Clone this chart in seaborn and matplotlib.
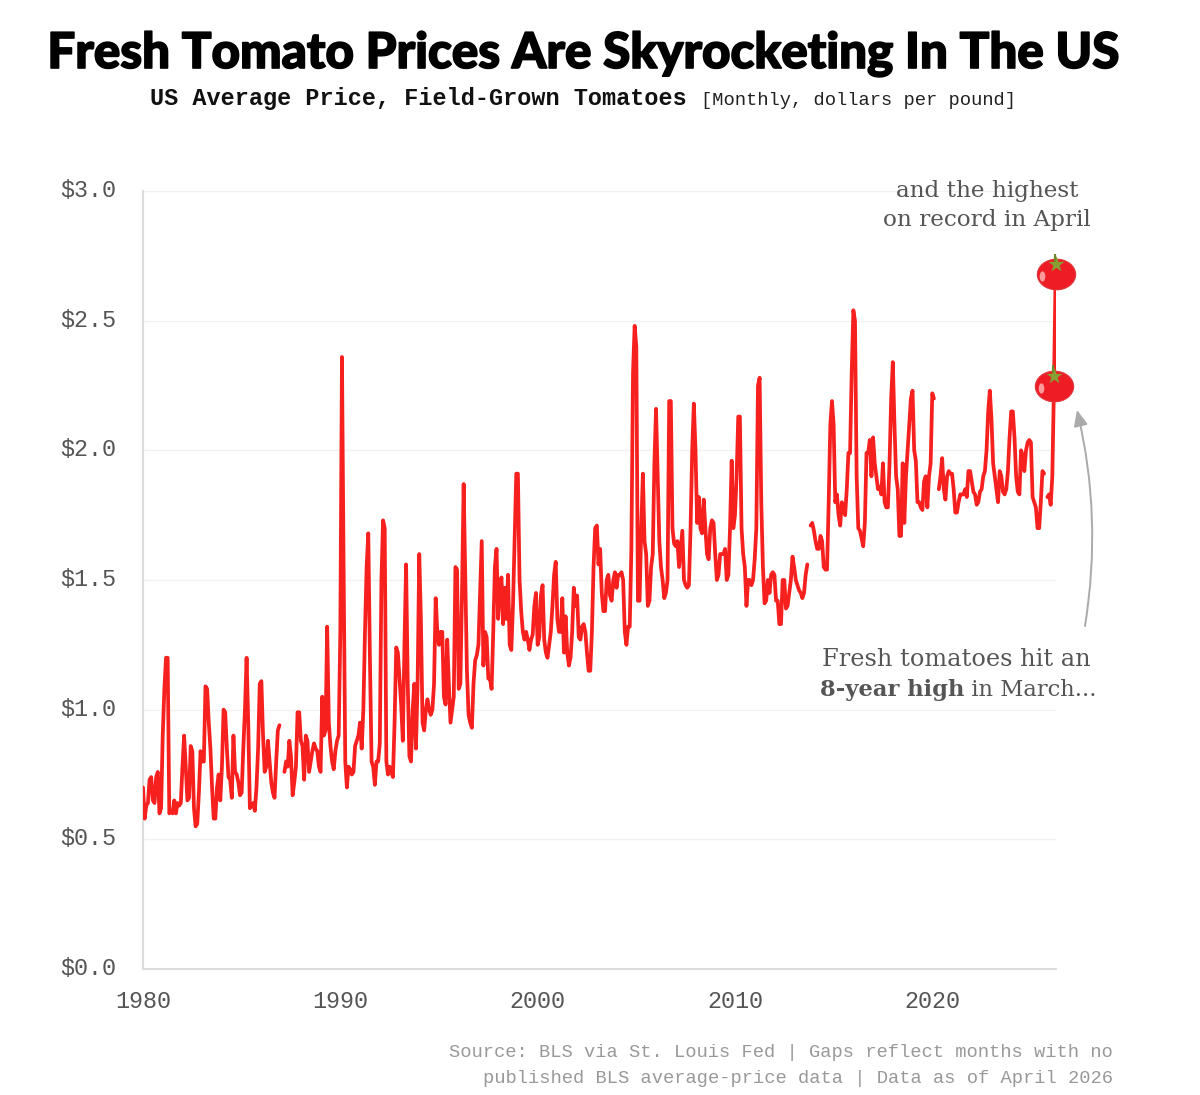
import numpy as np
import pandas as pd
import matplotlib
matplotlib.use('Agg')
import matplotlib.pyplot as plt
import matplotlib.patheffects as pe
from matplotlib.path import Path
from matplotlib.transforms import Affine2D, ScaledTranslation
import seaborn as sns

nan = np.nan

# Prezzi mensili, dollari per libbra
p1980 = [.70, .58, .63, .64, .73, .74, .65, .64, .74, .76, .60, .62]
p1981 = [.90, 1.08, 1.20, 1.20, .60, .61, .60, .65, .60, .64, .63, .64]
p1982 = [.78, .90, .78, .65, .66, .86, .84, .62, .55, .56, .68, .84]
p1983 = [.80, .80, 1.09, 1.08, .95, .85, .70, .58, .58, .70, .75, .65]
p1984 = [.78, 1.00, .99, .85, .74, .73, .66, .90, .76, .75, .72, .67]
p1985 = [.68, .85, 1.00, 1.20, .95, .62, .63, .64, .61, .70, .85, 1.10]
p1986 = [1.11, .90, .76, .78, .88, .80, .72, .68, .66, .80, .92, .94]
p1987 = [nan, nan, .76, .80, .78, .88, .82, .67, .72, .78, .99, .99]
p1988 = [.88, .86, .73, .90, .88, .76, .80, .84, .87, .85, .84, .78]
p1989 = [.76, 1.05, .90, .92, 1.32, .95, .86, .80, .77, .84, .88, .90]
p1990 = [1.30, 2.36, 1.55, .80, .70, .78, .77, .75, .76, .86, .88, .90]
p1991 = [.95, .85, 1.00, 1.30, 1.55, 1.68, 1.20, .80, .78, .71, .80, .80]
p1992 = [.87, 1.50, 1.73, 1.70, .80, .75, .78, .76, .74, .95, 1.24, 1.22]
p1993 = [1.12, 1.02, .88, 1.25, 1.56, 1.10, .82, .80, 1.00, 1.10, .85, 1.10]
p1994 = [1.60, 1.35, .95, .92, 1.00, 1.04, 1.00, .98, 1.00, 1.10, 1.43, 1.30]
p1995 = [1.25, 1.30, 1.30, 1.05, 1.02, 1.27, 1.10, .95, 1.00, 1.05, 1.55, 1.54]
p1996 = [1.08, 1.10, 1.45, 1.87, 1.50, 1.15, .98, .95, .93, 1.10, 1.19, 1.21]
p1997 = [1.25, 1.45, 1.65, 1.17, 1.30, 1.28, 1.12, 1.12, 1.08, 1.30, 1.55, 1.62]
p1998 = [1.35, 1.47, 1.51, 1.33, 1.47, 1.35, 1.52, 1.25, 1.23, 1.40, 1.65, 1.91]
p1999 = [1.91, 1.50, 1.38, 1.30, 1.27, 1.30, 1.27, 1.23, 1.27, 1.29, 1.40, 1.45]
p2000 = [1.25, 1.28, 1.44, 1.48, 1.27, 1.22, 1.20, 1.25, 1.30, 1.40, 1.52, 1.57]
p2001 = [1.35, 1.30, 1.30, 1.43, 1.22, 1.36, 1.22, 1.17, 1.20, 1.30, 1.47, 1.40]
p2002 = [1.44, 1.28, 1.27, 1.32, 1.33, 1.30, 1.22, 1.15, 1.15, 1.30, 1.55, 1.70]
p2003 = [1.71, 1.56, 1.62, 1.45, 1.38, 1.38, 1.50, 1.52, 1.44, 1.42, 1.50, 1.53]
p2004 = [1.47, 1.52, 1.52, 1.53, 1.50, 1.30, 1.25, 1.32, 1.32, 1.62, 2.30, 2.48]
p2005 = [2.40, 1.42, 1.42, 1.70, 1.91, 1.65, 1.60, 1.40, 1.42, 1.55, 1.60, 1.95]
p2006 = [2.16, 1.90, 1.65, 1.55, 1.50, 1.43, 1.45, 1.50, 2.19, 2.19, 1.70, 1.64]
p2007 = [1.63, 1.65, 1.55, 1.62, 1.69, 1.50, 1.48, 1.47, 1.48, 1.70, 2.00, 2.18]
p2008 = [2.00, 1.72, 1.82, 1.70, 1.68, 1.81, 1.70, 1.60, 1.58, 1.70, 1.73, 1.72]
p2009 = [1.60, 1.50, 1.52, 1.60, 1.60, 1.60, 1.62, 1.50, 1.52, 1.70, 1.96, 1.70]
p2010 = [1.75, 1.90, 2.13, 2.13, 1.70, 1.60, 1.55, 1.40, 1.50, 1.50, 1.48, 1.50]
p2011 = [1.58, 1.70, 2.25, 2.28, 1.80, 1.55, 1.41, 1.42, 1.50, 1.45, 1.52, 1.53]
p2012 = [1.52, 1.42, 1.42, 1.33, 1.33, 1.50, 1.50, 1.39, 1.40, 1.45, 1.50, 1.59]
p2013 = [1.55, 1.50, 1.48, 1.46, 1.45, 1.43, 1.45, 1.52, 1.56, nan, 1.71, 1.72]
p2014 = [1.69, 1.65, 1.62, 1.62, 1.67, 1.65, 1.55, 1.54, 1.54, 1.80, 2.10, 2.19]
p2015 = [2.10, 1.80, 1.83, 1.75, 1.71, 1.80, 1.78, 1.75, 1.85, 1.99, 1.99, 2.30]
p2016 = [2.54, 2.50, 1.90, 1.70, 1.69, 1.66, 1.63, 1.72, 1.99, 1.99, 2.04, 1.90]
p2017 = [2.05, 1.95, 1.90, 1.85, 1.86, 1.83, 1.95, 1.80, 1.78, 1.78, 1.95, 2.20]
p2018 = [2.34, 2.10, 1.90, 1.85, 1.67, 1.67, 1.95, 1.72, 1.90, 2.00, 2.10, 2.20]
p2019 = [2.23, 2.00, 1.96, 1.80, 1.80, 1.78, 1.77, 1.88, 1.90, 1.78, 1.90, 1.95]
p2020 = [2.22, 2.20, nan, nan, 1.85, 1.90, 1.97, 1.85, 1.81, 1.90, 1.92, 1.91]
p2021 = [1.91, 1.85, 1.76, 1.76, 1.80, 1.83, 1.83, 1.83, 1.85, 1.82, 1.92, 1.92]
p2022 = [1.88, 1.84, 1.83, 1.79, 1.80, 1.84, 1.85, 1.90, 1.92, 2.00, 2.15, 2.23]
p2023 = [2.12, 1.95, 1.90, 1.85, 1.80, 1.92, 1.90, 1.84, 1.83, 1.85, 1.92, 2.05]
p2024 = [2.15, 2.15, 2.05, 1.90, 1.84, 1.83, 2.00, 1.98, 1.92, 2.00, 2.03, 2.04]
p2025 = [2.03, 1.82, 1.80, 1.78, 1.70, 1.70, 1.80, 1.92, 1.91, nan, 1.82, 1.83]
p2026 = [1.79, 1.90, 2.25, 2.68]

all_years = [p1980, p1981, p1982, p1983, p1984, p1985, p1986, p1987, p1988, p1989,
             p1990, p1991, p1992, p1993, p1994, p1995, p1996, p1997, p1998, p1999,
             p2000, p2001, p2002, p2003, p2004, p2005, p2006, p2007, p2008, p2009,
             p2010, p2011, p2012, p2013, p2014, p2015, p2016, p2017, p2018, p2019,
             p2020, p2021, p2022, p2023, p2024, p2025, p2026]

y_ticks = [0.0, 0.5, 1.0, 1.5, 2.0, 2.5, 3.0]
y_labels = ['$0.0', '$0.5', '$1.0', '$1.5', '$2.0', '$2.5', '$3.0']
x_ticks = [1980, 1990, 2000, 2010, 2020]

RED = '#f6211f'
W, H = 1200, 1095


def fx(px):
    return px / W


def fy(py):
    return 1 - py / H


def ellipse_marker(sx, sy):
    return Path.unit_circle().transformed(Affine2D().scale(sx, sy))


rows = []
for i, vals in enumerate(all_years):
    for m, v in enumerate(vals):
        rows.append((1980 + i + m / 12, v))
df = pd.DataFrame(rows, columns=['year', 'price'])
df['segment'] = df['price'].isna().cumsum()
df = df.dropna()

sns.set_theme(style='white')
fig = plt.figure(figsize=(W / 100, H / 100), dpi=100, facecolor='white')
ax = fig.add_axes([fx(143), fy(969), fx(1056 - 143), (969 - 191) / H])

for _, seg in df.groupby('segment'):
    sns.lineplot(data=seg, x='year', y='price', color=RED, linewidth=2.7, errorbar=None,
                 ax=ax, legend=False, solid_joinstyle='round', zorder=3)

# --- pomodori sugli ultimi due mesi ---
last = df.tail(2)
sns.scatterplot(data=last, x='year', y='price', marker=ellipse_marker(1.25, 1.0), s=760, color='#ee1c25',
                edgecolor='#e0343a', linewidth=0.8, ax=ax, legend=False, zorder=5, clip_on=False)
ax.scatter(last['year'] - 0.68, last['price'] - 0.008, marker=ellipse_marker(0.55, 1.0), s=55,
           color='#fb9a9a', linewidth=0, zorder=6, clip_on=False)
ax.scatter(last['year'], last['price'] + 0.038, marker='*', s=150, color='#86a034',
           linewidth=0, zorder=7, clip_on=False)
ax.scatter(last['year'] - 0.05, last['price'] + 0.062, marker='|', s=40, color='#6f8a2a',
           linewidth=1.6, zorder=7, clip_on=False)

ax.set_xlim(1980, 2026.27)
ax.set_ylim(0, 3)
ax.set_xticks(x_ticks)
ax.set_yticks(y_ticks)
ax.set_yticklabels(y_labels)
ax.set_xlabel('')
ax.set_ylabel('')
ax.tick_params(axis='x', length=4, width=1, color='#dddddd', pad=11, labelsize=16.8, labelcolor='#555555')
ax.tick_params(axis='y', length=0, pad=19, labelsize=16.8, labelcolor='#555555')
for lab in ax.get_xticklabels() + ax.get_yticklabels():
    lab.set_family('Liberation Mono')
nudge = ScaledTranslation(0, 3 / 100, fig.dpi_scale_trans)
for lab in ax.get_yticklabels():
    lab.set_transform(lab.get_transform() + nudge)
ax.grid(axis='y', color='#f1f1f1', linewidth=1)
ax.set_axisbelow(True)
for s in ['top', 'right']:
    ax.spines[s].set_visible(False)
for s in ['left', 'bottom']:
    ax.spines[s].set_color('#dddddd')
    ax.spines[s].set_linewidth(1.5)

# --- titoli ---
title = fig.text(fx(583), fy(68), 'Fresh Tomato Prices Are Skyrocketing In The US', ha='center', va='baseline',
                 family='Lato', fontweight='black', fontsize=35.5, color='black')
title.set_path_effects([pe.withStroke(linewidth=1.2, foreground='black')])
renderer = fig.canvas.get_renderer()
sub = fig.text(fx(150), fy(105), 'US Average Price, Field-Grown Tomatoes ', ha='left', va='baseline',
               family='Liberation Mono', fontweight='bold', fontsize=16.9, color='#111111')
fig.text(sub.get_window_extent(renderer).x1 / W, fy(105), '[Monthly, dollars per pound]', ha='left', va='baseline',
         family='Liberation Mono', fontsize=13.5, color='#222222')

# --- annotazioni ---
serif = dict(family='DejaVu Serif', color='#555555')
fig.text(fx(987), fy(197), 'and the highest', ha='center', va='baseline', fontsize=16.7, **serif)
fig.text(fx(987), fy(226), 'on record in April', ha='center', va='baseline', fontsize=16.7, **serif)
fig.text(fx(1091), fy(666), 'Fresh tomatoes hit an', ha='right', va='baseline', fontsize=17.3, **serif)
tail = fig.text(fx(1097), fy(696), ' in March...', ha='right', va='baseline', fontsize=16.3, **serif)
fig.text(tail.get_window_extent(renderer).x0 / W, fy(696), '8-year high', ha='right', va='baseline',
         fontweight='bold', fontsize=16.3, **serif)

ax.annotate('', xy=(fx(1077), fy(410)), xytext=(fx(1085), fy(626)), xycoords='figure fraction',
            textcoords='figure fraction',
            arrowprops=dict(arrowstyle='-|>,head_length=0.8,head_width=0.35', color='#aaaaaa', linewidth=1.4,
                            connectionstyle='arc3,rad=0.1', shrinkA=0, shrinkB=0))

# --- fonte ---
foot = dict(family='Liberation Mono', fontsize=13.5, color='#999999', ha='right', va='baseline')
fig.text(fx(1113), fy(1057), 'Source: BLS via St. Louis Fed | Gaps reflect months with no', **foot)
fig.text(fx(1113), fy(1083), 'published BLS average-price data | Data as of April 2026', **foot)

fig.savefig('out.png', dpi=100)
